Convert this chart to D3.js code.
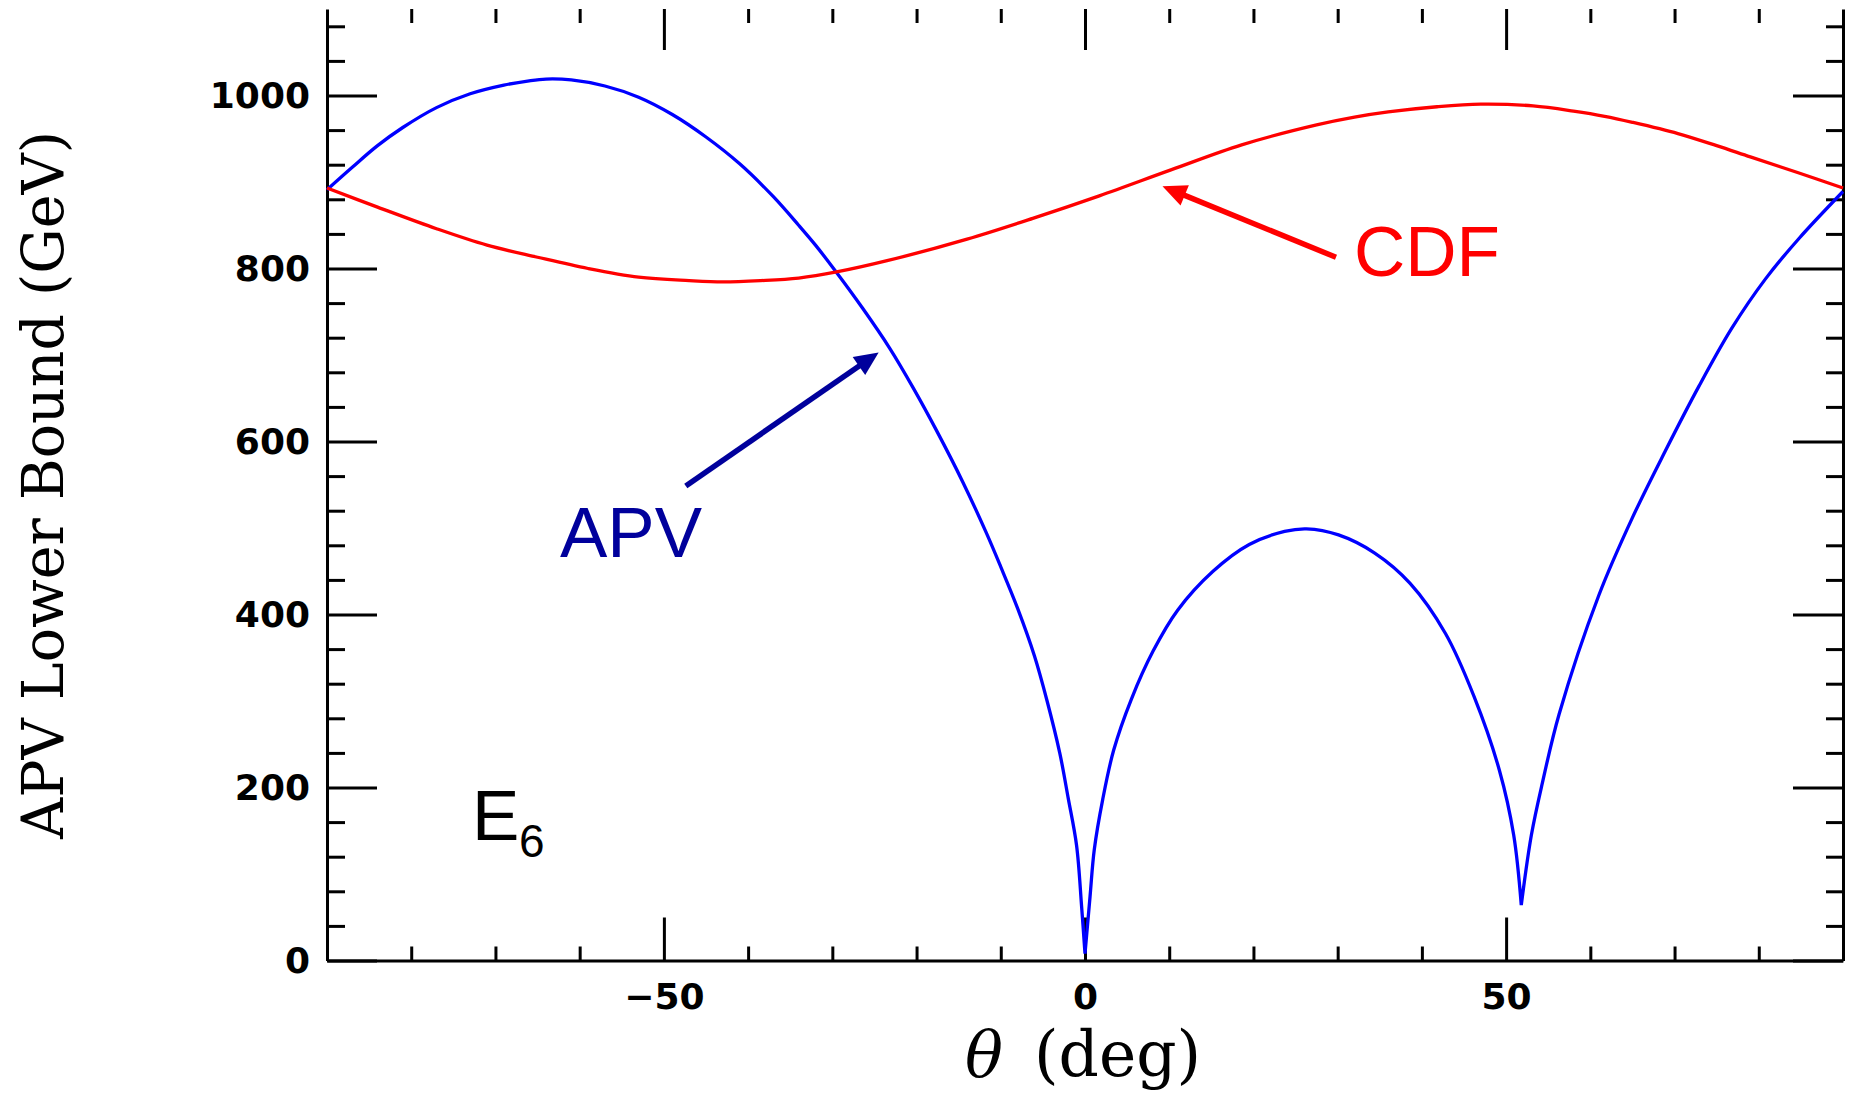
<!DOCTYPE html>
<html><head><meta charset="utf-8">
<script src="https://cdn.jsdelivr.net/npm/d3@7"></script>
<style>html,body{margin:0;padding:0;background:#fff;} svg{display:block;}</style>
</head><body>
<svg id="c" width="1856" height="1094"></svg>
<script>
// ---- data ----
const thetaAPV = [-90,-87,-84,-81,-77,-73,-69,-66,-64,-61,-57,-53,-49,-45,-41,-37,-34,-32,-29.7,-26.4,-23.2,-20.4,-17.7,-14.5,-11.7,-10,-8,-6,-4.5,-3,-2,-1,-0.4,0,0.6,1.1,2.1,3.4,5.5,8.1,11,15.2,19.5,23.7,26.3,30.1,34.4,38.6,42.8,46.2,49.2,50.9,51.8,53,54.3,56.3,61,65,68.9,72.9,76.8,80.8,84.8,90];
const valuesAPV = [891,917,942,963,986,1002,1012,1017,1019,1018,1011,998,978,952,921,883,850,827,798,754,708,662,614,553,494,455,407,352,300,240,188,133,62,8,74,128,186,243,302,358,405,450,481,496,499,492,471,436,378,305,220,145,64,145,205,285,422,512,589,664,731,788,835,889];
const thetaCDF = [-90,-84,-77,-71,-65,-59,-53,-47,-43,-38.5,-34,-29.5,-23.5,-14,-6.2,1.7,10.2,18.6,27.5,32,36,41.8,47,53.2,58,61.7,65,70.4,75,79,84.6,90];
const valuesCDF = [893,871,846,827,813,800,790,786,784.5,786,789,796,809,834,858,884,914,943,966,975,981,987,990,988,982,976,969,956,942,929,911,893];
const xMajorTicks = [-50, 0, 50];
const xMinorTicks = [-80,-70,-60,-40,-30,-20,-10,10,20,30,40,60,70,80];
const yMajorTicks = [0, 200, 400, 600, 800, 1000];
const yMinorTicks = [40,80,120,160,240,280,320,360,440,480,520,560,640,680,720,760,840,880,920,960,1040,1080];

// ---- drawing ----
const svg = d3.select("#c");
svg.append("rect").attr("width",1856).attr("height",1094).attr("fill","#fff");
const x = d3.scaleLinear().domain([-90, 90]).range([327, 1843]);
const y = d3.scaleLinear().domain([0, 1100]).range([960.5, 9]);

const tickFont = "'DejaVu Sans', sans-serif";
function styleAxis(g, keepDomain) {
  g.attr("font-family", tickFont).attr("font-size", 36).attr("font-weight", "bold").attr("color", "#000");
  g.selectAll(".tick line").attr("stroke-width", 3);
  if (keepDomain) g.select(".domain").attr("stroke-width", 3);
  else g.select(".domain").remove();
}

// bottom
svg.append("g").attr("transform", `translate(0,${y(0)})`)
  .call(d3.axisBottom(x).tickValues(xMajorTicks).tickSize(-43).tickSizeOuter(0).tickPadding(23).tickFormat(d3.format("d")))
  .call(g => styleAxis(g, true));
svg.append("g").attr("transform", `translate(0,${y(0)})`)
  .call(d3.axisBottom(x).tickValues(xMinorTicks).tickSize(-14).tickFormat(() => ""))
  .call(g => styleAxis(g, false));
// top
svg.append("g").attr("transform", `translate(0,${y(1100)})`)
  .call(d3.axisTop(x).tickValues(xMajorTicks).tickSize(-41).tickFormat(() => ""))
  .call(g => styleAxis(g, false));
svg.append("g").attr("transform", `translate(0,${y(1100)})`)
  .call(d3.axisTop(x).tickValues(xMinorTicks).tickSize(-14).tickFormat(() => ""))
  .call(g => styleAxis(g, false));
// left
svg.append("g").attr("transform", `translate(${x(-90)},0)`)
  .call(d3.axisLeft(y).tickValues(yMajorTicks).tickSize(-50).tickSizeOuter(0).tickPadding(17).tickFormat(d3.format("d")))
  .call(g => styleAxis(g, true));
svg.append("g").attr("transform", `translate(${x(-90)},0)`)
  .call(d3.axisLeft(y).tickValues(yMinorTicks).tickSize(-18).tickFormat(() => ""))
  .call(g => styleAxis(g, false));
// right
svg.append("g").attr("transform", `translate(${x(90)},0)`)
  .call(d3.axisRight(y).tickValues(yMajorTicks).tickSize(-50).tickSizeOuter(0).tickFormat(() => ""))
  .call(g => styleAxis(g, true));
svg.append("g").attr("transform", `translate(${x(90)},0)`)
  .call(d3.axisRight(y).tickValues(yMinorTicks).tickSize(-17).tickFormat(() => ""))
  .call(g => styleAxis(g, false));

// curves: split at cusps (local minima) so the smooth interpolation keeps sharp dips
const line = d3.line().x(d => x(d[0])).y(d => y(d[1])).curve(d3.curveCatmullRom.alpha(0.5));
function segmentedPath(ts, vs) {
  const pts = ts.map((t, i) => [t, vs[i]]);
  const cuts = [0];
  for (let i = 1; i < pts.length - 1; i++) {
    if (vs[i] < vs[i - 1] && vs[i] < vs[i + 1] && vs[i] < 200) cuts.push(i);
  }
  cuts.push(pts.length - 1);
  let d = "";
  for (let k = 0; k < cuts.length - 1; k++) d += line(pts.slice(cuts[k], cuts[k + 1] + 1));
  return d;
}
svg.append("path").attr("d", segmentedPath(thetaAPV, valuesAPV)).attr("fill", "none")
  .attr("stroke", "#0000ff").attr("stroke-width", 3.3).attr("stroke-linejoin", "round");
svg.append("path").attr("d", segmentedPath(thetaCDF, valuesCDF)).attr("fill", "none")
  .attr("stroke", "#ff0000").attr("stroke-width", 3.3).attr("stroke-linejoin", "round");

// arrows
function arrow(t1, v1, t2, v2, color) {
  const x1 = x(t1), y1 = y(v1), x2 = x(t2), y2 = y(v2);
  const dx = x2 - x1, dy = y2 - y1, L = Math.hypot(dx, dy);
  const ux = dx / L, uy = dy / L, px = -uy, py = ux;
  const hl = 24, hw = 11;
  const bx = x2 - ux * hl, by = y2 - uy * hl;
  svg.append("line").attr("x1", x1).attr("y1", y1).attr("x2", bx + ux * 2).attr("y2", by + uy * 2)
    .attr("stroke", color).attr("stroke-width", 5.5);
  svg.append("polygon").attr("fill", color)
    .attr("points", [[x2, y2], [bx + px * hw, by + py * hw], [bx - px * hw, by - py * hw]].map(p => p.join(",")).join(" "));
}
arrow(29.8, 813, 9.2, 895, "#ff0000");
arrow(-47.4, 548.6, -24.5, 703, "#00009c");

const annFont = "'Liberation Sans', Arial, sans-serif";
svg.append("text").attr("x", 1354).attr("y", 276).attr("font-family", annFont).attr("font-size", 71)
  .attr("fill", "#ff0000").text("CDF");
svg.append("text").attr("x", 560).attr("y", 557).attr("font-family", annFont).attr("font-size", 71)
  .attr("fill", "#00009c").text("APV");
const e6 = svg.append("text").attr("x", 472).attr("y", 840).attr("font-family", annFont).attr("font-size", 71).attr("fill", "#000");
e6.append("tspan").text("E");
e6.append("tspan").attr("x", 519).attr("y", 857).attr("font-size", 46).text("6");

// axis titles
const titleFont = "'DejaVu Serif', serif";
svg.append("text").attr("transform", "translate(63,485) rotate(-90)").attr("text-anchor", "middle")
  .attr("font-family", titleFont).attr("font-size", 57).attr("fill", "#000").text("APV Lower Bound (GeV)");
const xt = svg.append("text").attr("y", 1076).attr("font-family", titleFont).attr("font-size", 63).attr("fill", "#000");
xt.append("tspan").attr("x", 965).attr("font-style", "italic").text("θ");
xt.append("tspan").attr("x", 1034).text("(deg)");
</script>
</body></html>
